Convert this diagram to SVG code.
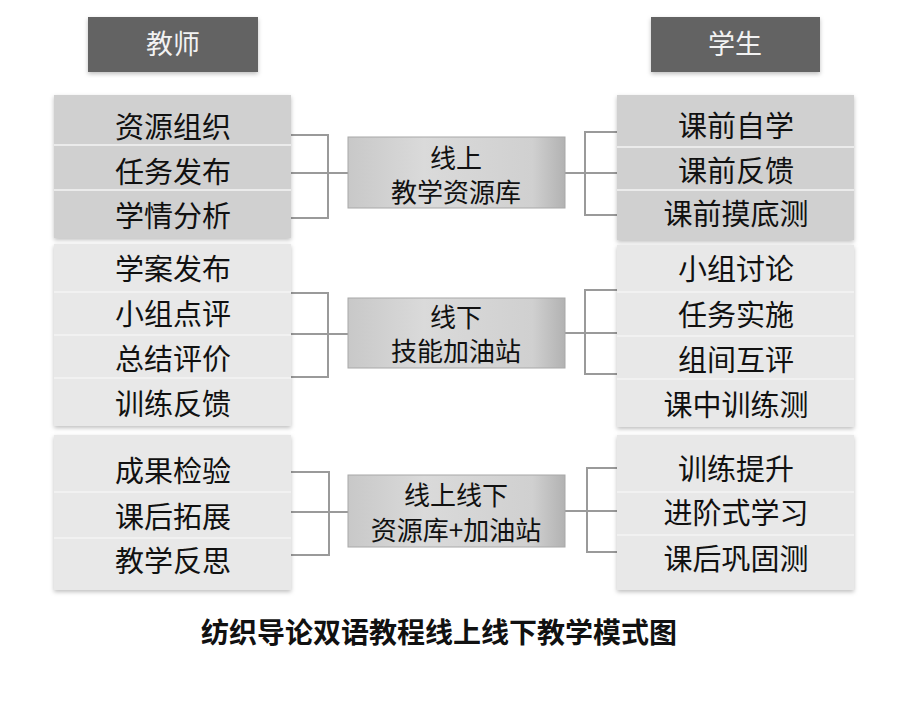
<svg xmlns="http://www.w3.org/2000/svg" width="908" height="709" viewBox="0 0 908 709">
<defs>
<style>
.hdr{fill:#636363;}
.hdrt{font-family:"Noto Sans CJK SC","Liberation Sans",sans-serif;font-size:27px;fill:#f2f2f2;text-anchor:middle;}
.g1{fill:#d0d0d0;}
.g2{fill:#e8e8e8;}
.sep{stroke:#f4f4f4;stroke-width:1.5;}
.row{font-family:"Noto Sans CJK SC","Liberation Sans",sans-serif;font-size:29px;fill:#111;text-anchor:middle;}
.ctr{stroke:#a8a8a8;stroke-width:1;}
.ctrt{font-family:"Noto Sans CJK SC","Liberation Sans",sans-serif;font-size:26px;fill:#111;text-anchor:middle;}
.con{fill:none;stroke:#9a9a9a;stroke-width:2;}
.cap{font-family:"Noto Sans CJK SC","Liberation Sans",sans-serif;font-size:28px;font-weight:bold;fill:#111;text-anchor:middle;}
</style>
<linearGradient id="cg" x1="0" y1="0" x2="1" y2="0">
<stop offset="0" stop-color="#c8c8c8"/>
<stop offset="0.35" stop-color="#dadada"/>
<stop offset="0.85" stop-color="#d0d0d0"/>
<stop offset="1" stop-color="#b2b2b2"/>
</linearGradient>
<filter id="sh" x="-5%" y="-5%" width="110%" height="115%">
<feDropShadow dx="0" dy="2" stdDeviation="2" flood-color="#000" flood-opacity="0.25"/>
</filter>
</defs>
<rect width="908" height="709" fill="#ffffff"/>

<g id="hdr-teacher">
<rect class="hdr" x="88" y="17" width="170" height="55" filter="url(#sh)"/>
<text class="hdrt" x="173" y="54">教师</text>
</g>
<g id="hdr-student">
<rect class="hdr" x="651" y="17" width="169" height="55" filter="url(#sh)"/>
<text class="hdrt" x="735" y="54">学生</text>
</g>

<g id="connectors">
<path class="con" d="M291,135 H328 V218 H291 M291,173 H348"/>
<path class="con" d="M617,132 H585 V215 H617 M565,173 H617"/>
<path class="con" d="M291,293 H328 V377 H291 M291,334 H348"/>
<path class="con" d="M617,290 H585 V374 H617 M565,333 H617"/>
<path class="con" d="M291,472 H329 V555 H291 M291,512 H348"/>
<path class="con" d="M617,468 H587 V552 H617 M565,511 H617"/>
</g>

<g id="teacher-1">
<rect class="g1" x="54" y="95" width="237" height="143" filter="url(#sh)"/>
<line class="sep" x1="54" y1="145" x2="291" y2="145"/>
<line class="sep" x1="54" y1="190" x2="291" y2="190"/>
<text class="row" x="173" y="138">资源组织</text>
<text class="row" x="173" y="183">任务发布</text>
<text class="row" x="173" y="227">学情分析</text>
</g>
<g id="teacher-2">
<rect class="g2" x="54" y="244" width="237" height="182" filter="url(#sh)"/>
<line class="sep" x1="54" y1="292" x2="291" y2="292"/>
<line class="sep" x1="54" y1="335" x2="291" y2="335"/>
<line class="sep" x1="54" y1="378" x2="291" y2="378"/>
<text class="row" x="173" y="280">学案发布</text>
<text class="row" x="173" y="325">小组点评</text>
<text class="row" x="173" y="370">总结评价</text>
<text class="row" x="173" y="415">训练反馈</text>
</g>
<g id="teacher-3">
<rect class="g2" x="54" y="435" width="237" height="155" filter="url(#sh)"/>
<line class="sep" x1="54" y1="492" x2="291" y2="492"/>
<line class="sep" x1="54" y1="538" x2="291" y2="538"/>
<text class="row" x="173" y="482">成果检验</text>
<text class="row" x="173" y="528">课后拓展</text>
<text class="row" x="173" y="572">教学反思</text>
</g>

<g id="center-1">
<rect class="ctr" x="348" y="137" width="217" height="71" fill="url(#cg)"/>
<text class="ctrt" x="456" y="168">线上</text>
<text class="ctrt" x="456" y="202">教学资源库</text>
</g>
<g id="center-2">
<rect class="ctr" x="348" y="298" width="217" height="70" fill="url(#cg)"/>
<text class="ctrt" x="456" y="327">线下</text>
<text class="ctrt" x="456" y="361">技能加油站</text>
</g>
<g id="center-3">
<rect class="ctr" x="348" y="475" width="217" height="72" fill="url(#cg)"/>
<text class="ctrt" x="456" y="505">线上线下</text>
<text class="ctrt" x="456" y="540">资源库+加油站</text>
</g>

<g id="student-1">
<rect class="g1" x="617" y="95" width="237" height="145" filter="url(#sh)"/>
<line class="sep" x1="617" y1="147" x2="854" y2="147"/>
<line class="sep" x1="617" y1="190" x2="854" y2="190"/>
<text class="row" x="736" y="137">课前自学</text>
<text class="row" x="736" y="182">课前反馈</text>
<text class="row" x="736" y="225">课前摸底测</text>
</g>
<g id="student-2">
<rect class="g2" x="617" y="245" width="237" height="182" filter="url(#sh)"/>
<line class="sep" x1="617" y1="292" x2="854" y2="292"/>
<line class="sep" x1="617" y1="336" x2="854" y2="336"/>
<line class="sep" x1="617" y1="379" x2="854" y2="379"/>
<text class="row" x="736" y="280">小组讨论</text>
<text class="row" x="736" y="326">任务实施</text>
<text class="row" x="736" y="371">组间互评</text>
<text class="row" x="736" y="416">课中训练测</text>
</g>
<g id="student-3">
<rect class="g2" x="617" y="435" width="237" height="155" filter="url(#sh)"/>
<line class="sep" x1="617" y1="492" x2="854" y2="492"/>
<line class="sep" x1="617" y1="535" x2="854" y2="535"/>
<text class="row" x="736" y="480">训练提升</text>
<text class="row" x="736" y="524">进阶式学习</text>
<text class="row" x="736" y="570">课后巩固测</text>
</g>

<text class="cap" x="439" y="643">纺织导论双语教程线上线下教学模式图</text>
</svg>
